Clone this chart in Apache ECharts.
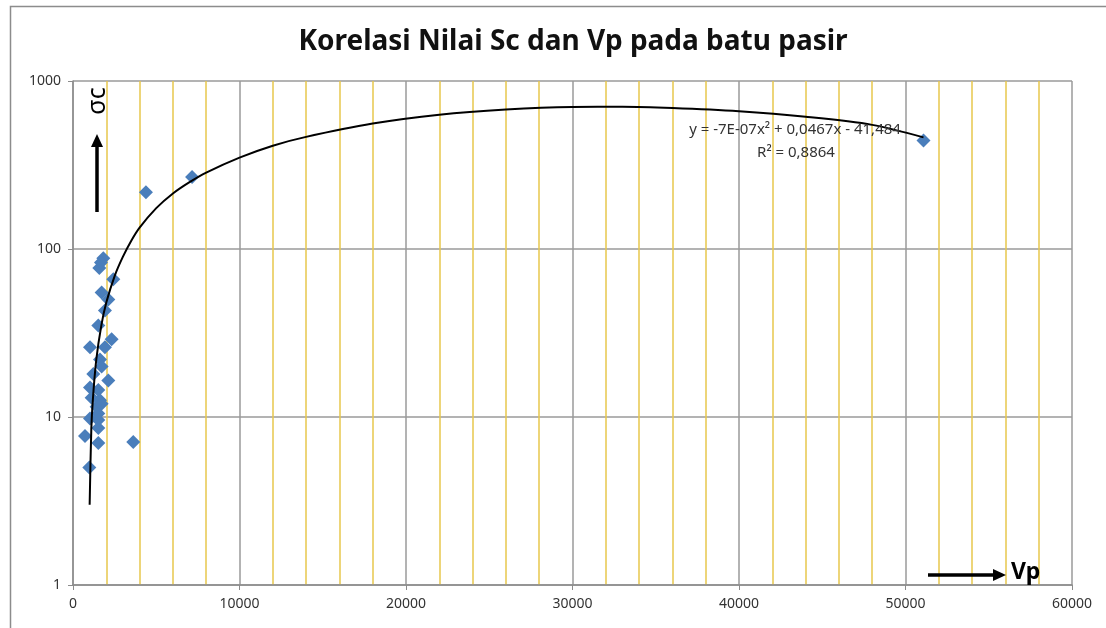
<!DOCTYPE html>
<html>
<head>
<meta charset="utf-8">
<script src="https://cdn.jsdelivr.net/npm/echarts@6/dist/echarts.min.js"></script>
<style>
  html, body { margin: 0; padding: 0; background: #fff; }
  #chart { width: 1106px; height: 628px; }
</style>
</head>
<body>
<div id="chart"></div>
<script>
// Korelasi Sc - Vp, batu pasir
const vp = [1820, 1580, 2420, 1720, 2120, 1920, 1520, 1020, 2320, 1920, 1620, 1720, 1220, 2120, 1020, 1520,
  1120, 1620, 1420, 1520, 1020, 1520, 720, 1520, 3620, 980, 4380, 7150, 51080, 1720, 1520, 1680];
const sc = [88, 77, 66, 55, 50, 43, 35, 26, 29, 26, 22, 20, 18, 16.5, 15, 14.5,
  13, 12.6, 11.5, 10.5, 9.8, 8.6, 7.7, 7.0, 7.1, 5, 218, 268, 442, 12, 9.6, 83];

// trendline (polinomial)
const trendX = [1000, 1100, 1200, 1400, 1700, 2000, 2500, 3000, 3500, 4000, 5000, 6000, 7000, 8000, 10000,
  12000, 14000, 18000, 22000, 26000, 30000, 33000, 36000, 40000, 44000, 48000, 51080];
const trendY = [3, 8.5, 13, 22, 35, 48, 69, 90, 112, 134, 175, 214, 250, 285, 350,
  412, 465, 558, 630, 676, 700, 702, 690, 660, 612, 548, 462];

const xTicks = [0, 10000, 20000, 30000, 40000, 50000, 60000];
const yTicks = [1, 10, 100, 1000];

const chart = echarts.init(document.getElementById('chart'));
const txt = '#333';
const font = '"Noto Sans", "Open Sans", sans-serif';

chart.setOption({
  backgroundColor: '#fff',
  animation: false,
  title: {
    text: 'Korelasi Nilai Sc dan Vp pada batu pasir',
    left: 568,
    top: 23,
    textAlign: 'center',
    textStyle: { fontFamily: font, fontSize: 28, fontWeight: 'bold', color: '#111' }
  },
  grid: { left: 73, right: 34, top: 81, bottom: 43 },
  xAxis: {
    type: 'value',
    min: xTicks[0],
    max: xTicks[xTicks.length - 1],
    interval: 10000,
    axisLine: { onZero: false, lineStyle: { color: '#8c8c8c', width: 1.5 } },
    axisTick: { show: true, length: 5, lineStyle: { color: '#8c8c8c' } },
    axisLabel: { color: txt, fontSize: 14, fontFamily: font, margin: 12, formatter: (v) => String(v) },
    splitLine: { show: true, lineStyle: { color: '#9a9a9a', width: 1.5 } },
    minorTick: { show: false, splitNumber: 5 },
    minorSplitLine: { show: true, lineStyle: { color: '#e8c84e', width: 1.5 } }
  },
  yAxis: {
    type: 'log',
    logBase: 10,
    min: yTicks[0],
    max: yTicks[yTicks.length - 1],
    axisLine: { show: true, lineStyle: { color: '#8c8c8c', width: 1.5 } },
    axisTick: { show: true, length: 5, lineStyle: { color: '#8c8c8c' } },
    axisLabel: { color: txt, fontSize: 14, fontFamily: font, margin: 12, formatter: (v) => String(Math.round(v)) },
    splitLine: { show: true, lineStyle: { color: '#9a9a9a', width: 1.5 } }
  },
  graphic: [
    { type: 'rect', left: 8, top: 4, shape: { width: 1200, height: 700 },
      style: { fill: 'none', stroke: '#8c8c8c', lineWidth: 1.5 }, silent: true, z: -10 },
    { type: 'text', x: 795, y: 130, style: { text: 'y = -7E-07x² + 0,0467x - 41,484',
      fontFamily: font, fontSize: 15, fill: txt, align: 'center', verticalAlign: 'middle' }, z: 100 },
    { type: 'text', x: 796, y: 153, style: { text: 'R² = 0,8864',
      fontFamily: font, fontSize: 15, fill: txt, align: 'center', verticalAlign: 'middle' }, z: 100 },
    // panah sigma c
    { type: 'line', shape: { x1: 97, y1: 212, x2: 97, y2: 146 }, style: { stroke: '#000', lineWidth: 3.5 }, z: 100 },
    { type: 'polygon', shape: { points: [[91, 147], [103, 147], [97, 134]] }, style: { fill: '#000' }, z: 100 },
    { type: 'text', x: 98, y: 101, rotation: Math.PI / 2, style: { text: 'σc',
      fontFamily: font, fontSize: 25, fill: '#000', align: 'center', verticalAlign: 'middle' }, z: 100 },
    // panah Vp
    { type: 'line', shape: { x1: 928, y1: 575, x2: 994, y2: 575 }, style: { stroke: '#000', lineWidth: 3.5 }, z: 100 },
    { type: 'polygon', shape: { points: [[993, 569], [993, 581], [1006, 575]] }, style: { fill: '#000' }, z: 100 },
    { type: 'text', x: 1011, y: 572, style: { text: 'Vp',
      fontFamily: font, fontSize: 23, fontWeight: 'bold', fill: '#000', align: 'left', verticalAlign: 'middle' }, z: 100 }
  ],
  series: [
    {
      name: 'Sc',
      type: 'scatter',
      symbol: 'diamond',
      symbolSize: 14,
      itemStyle: { color: '#4a7ebb', opacity: 1 },
      data: vp.map((v, i) => [v, sc[i]]),
      z: 3
    },
    {
      name: 'Trendline',
      type: 'line',
      smooth: 0.3,
      showSymbol: false,
      lineStyle: { color: '#000', width: 2 },
      data: trendX.map((v, i) => [v, trendY[i]]),
      z: 4
    }
  ]
});
</script>
</body>
</html>
